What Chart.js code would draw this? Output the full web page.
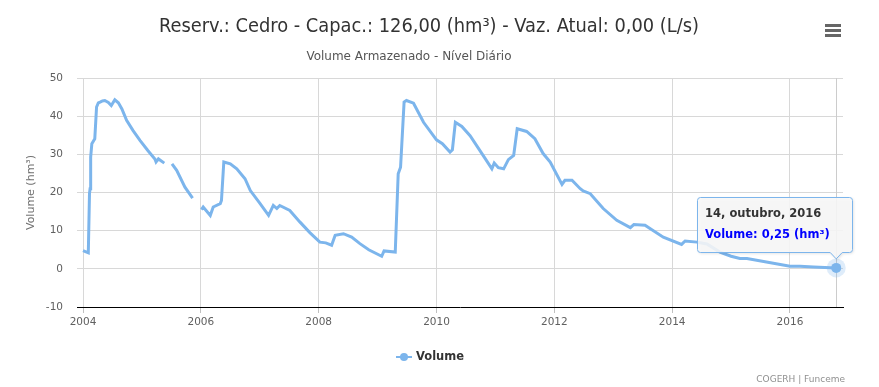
<!DOCTYPE html>
<html>
<head>
<meta charset="utf-8">
<script src="https://cdn.jsdelivr.net/npm/chart.js@4.4.1/dist/chart.umd.min.js"></script>
<style>
    body { margin: 0; background: #fff; }
    #wrap { width: 879px; height: 387px; position: relative; }
</style>
</head>
<body>
<div id="wrap"><canvas id="volumeChart"></canvas></div>
<script>
// datas em anos decimais, volume em hm³ (null = sem leitura)
const years = [
    2004.00, 2004.09, 2004.11, 2004.12, 2004.13, 2004.15, 2004.20, 2004.23, 2004.26, 2004.29,
    2004.33, 2004.37, 2004.43, 2004.48, 2004.54, 2004.60, 2004.66, 2004.74, 2004.85, 2004.97,
    2005.10, 2005.22, 2005.24, 2005.28, 2005.38, 2005.45, 2005.51, 2005.59, 2005.73, 2005.86,
    2005.94, 2006.01, 2006.04, 2006.16, 2006.21, 2006.33, 2006.35, 2006.39, 2006.50, 2006.61,
    2006.75, 2006.84, 2007.00, 2007.15, 2007.23, 2007.29, 2007.34, 2007.51, 2007.68, 2007.85,
    2008.02, 2008.12, 2008.22, 2008.28, 2008.42, 2008.56, 2008.70, 2008.85, 2009.07, 2009.11,
    2009.30, 2009.35, 2009.39, 2009.45, 2009.49, 2009.61, 2009.78, 2010.00, 2010.10, 2010.23,
    2010.27, 2010.32, 2010.43, 2010.57, 2010.83, 2010.94, 2010.98, 2011.05, 2011.14, 2011.22,
    2011.31, 2011.37, 2011.53, 2011.67, 2011.81, 2011.93, 2012.13, 2012.18, 2012.30, 2012.44,
    2012.49, 2012.61, 2012.83, 2013.06, 2013.29, 2013.35, 2013.54, 2013.63, 2013.85, 2014.16,
    2014.22, 2014.42, 2014.59, 2014.81, 2015.00, 2015.15, 2015.27, 2015.60, 2016.00, 2016.17,
    2016.40, 2016.785
];
const volumes = [
    4.8, 4.2, 19.7, 21.0, 29.3, 32.8, 34.1, 42.4, 43.5, 43.7,
    44.0, 44.1, 43.6, 42.8, 44.3, 43.5, 41.9, 38.9, 36.2, 33.6,
    31.0, 28.8, 28.0, 28.8, 27.7, null, 27.5, 25.8, 21.4, 18.5,
    null, 15.5, 16.2, 14.0, 16.2, 17.1, 17.9, 28.0, 27.5, 26.2,
    23.6, 20.5, 17.2, 14.0, 16.6, 15.8, 16.6, 15.3, 12.3, 9.5,
    7.0, 6.8, 6.2, 8.8, 9.2, 8.3, 6.6, 5.0, 3.3, 4.7,
    4.4, 24.9, 26.6, 43.7, 44.1, 43.4, 38.4, 33.8, 32.8, 30.6,
    31.2, 38.4, 37.3, 34.9, 28.8, 26.2, 27.7, 26.5, 26.2, 28.6,
    29.7, 36.7, 36.0, 34.1, 30.2, 28.0, 22.1, 23.2, 23.2, 21.0,
    20.4, 19.7, 15.8, 12.7, 10.8, 11.6, 11.4, 10.5, 8.3, 6.4,
    7.3, 7.0, 6.5, 4.4, 3.3, 2.7, 2.7, 1.8, 0.7, 0.7,
    0.5, 0.25
];
const xTickYears = [2004, 2006, 2008, 2010, 2012, 2014, 2016];
const yTickValues = [-10, 0, 10, 20, 30, 40, 50];

const chartTitle = 'Reserv.: Cedro - Capac.: 126,00 (hm³) - Vaz. Atual: 0,00 (L/s)';
const chartSubtitle = 'Volume Armazenado - Nível Diário';
const yAxisTitle = 'Volume (hm³)';
const seriesName = 'Volume';
const tooltipDate = '14, outubro, 2016';
const tooltipValue = 'Volume: 0,25 (hm³)';
const creditsText = 'COGERH | Funceme';

const lineColor = '#7cb5ec';
const baseFont = '"DejaVu Sans", Verdana, sans-serif';

// texto esticado/comprimido pra caber na largura medida
function fitText(ctx, text, cx, cy, width) {
    const w = ctx.measureText(text).width;
    ctx.save();
    ctx.translate(cx, cy);
    ctx.scale(width / w, 1);
    ctx.textAlign = 'center';
    ctx.textBaseline = 'middle';
    ctx.fillText(text, 0, 0);
    ctx.restore();
}

const decorPlugin = {
    id: 'decor',
    beforeDatasetsDraw(chart) {
        const ctx = chart.ctx;
        const area = chart.chartArea;
        const last = chart.getDatasetMeta(0).data[years.length - 1];
        // crosshair
        ctx.save();
        ctx.strokeStyle = '#cccccc';
        ctx.lineWidth = 1;
        ctx.beginPath();
        ctx.moveTo(Math.round(last.x) + 0.5, area.top);
        ctx.lineTo(Math.round(last.x) + 0.5, area.bottom);
        ctx.stroke();
        ctx.restore();
    },
    afterDatasetsDraw(chart) {
        const ctx = chart.ctx;
        const last = chart.getDatasetMeta(0).data[years.length - 1];
        ctx.save();
        ctx.fillStyle = 'rgba(124,181,236,0.25)';
        ctx.beginPath();
        ctx.arc(last.x, last.y, 9.5, 0, Math.PI * 2);
        ctx.fill();
        ctx.fillStyle = lineColor;
        ctx.beginPath();
        ctx.arc(last.x, last.y, 5, 0, Math.PI * 2);
        ctx.fill();
        ctx.restore();
    },
    afterDraw(chart) {
        const ctx = chart.ctx;
        const area = chart.chartArea;
        ctx.save();

        // titulo e subtitulo
        ctx.fillStyle = '#333333';
        ctx.font = '19px "Liberation Sans Narrow", "DejaVu Sans Condensed", "Liberation Sans", sans-serif';
        fitText(ctx, chartTitle, 429, 27, 540);
        ctx.fillStyle = '#555555';
        ctx.font = '12px "Liberation Sans Narrow", "DejaVu Sans Condensed", "Liberation Sans", sans-serif';
        fitText(ctx, chartSubtitle, 409, 57, 205);

        // botao de menu
        ctx.fillStyle = '#666666';
        [24, 29, 34].forEach(y => ctx.fillRect(825, y, 16, 3));

        // titulo do eixo y
        ctx.save();
        ctx.translate(31, (area.top + area.bottom) / 2);
        ctx.rotate(-Math.PI / 2);
        ctx.fillStyle = '#707070';
        ctx.font = '11px ' + baseFont;
        ctx.textAlign = 'center';
        ctx.textBaseline = 'middle';
        ctx.fillText(yAxisTitle, 0, 0);
        ctx.restore();

        // legenda
        ctx.strokeStyle = lineColor;
        ctx.lineWidth = 2;
        ctx.beginPath();
        ctx.moveTo(396, 357);
        ctx.lineTo(412, 357);
        ctx.stroke();
        ctx.fillStyle = lineColor;
        ctx.beginPath();
        ctx.arc(404, 357, 4, 0, Math.PI * 2);
        ctx.fill();
        ctx.fillStyle = '#333333';
        ctx.font = 'bold 11.5px ' + baseFont;
        ctx.textAlign = 'left';
        ctx.textBaseline = 'middle';
        ctx.fillText(seriesName, 416, 357);

        // creditos
        ctx.fillStyle = '#909090';
        ctx.font = '9px ' + baseFont;
        ctx.textAlign = 'right';
        ctx.fillText(creditsText, 845, 380);

        // tooltip
        const last = chart.getDatasetMeta(0).data[years.length - 1];
        const bx = 697.5, by = 197.5, bw = 155, bh = 55, r = 3;
        const tipX = last.x, tipY = last.y - 9;
        ctx.shadowColor = 'rgba(0,0,0,0.15)';
        ctx.shadowOffsetX = 1;
        ctx.shadowOffsetY = 1;
        ctx.shadowBlur = 3;
        ctx.beginPath();
        ctx.moveTo(bx + r, by);
        ctx.lineTo(bx + bw - r, by);
        ctx.arcTo(bx + bw, by, bx + bw, by + r, r);
        ctx.lineTo(bx + bw, by + bh - r);
        ctx.arcTo(bx + bw, by + bh, bx + bw - r, by + bh, r);
        ctx.lineTo(tipX + 6, by + bh);
        ctx.lineTo(tipX, tipY);
        ctx.lineTo(tipX - 6, by + bh);
        ctx.lineTo(bx + r, by + bh);
        ctx.arcTo(bx, by + bh, bx, by + bh - r, r);
        ctx.lineTo(bx, by + r);
        ctx.arcTo(bx, by, bx + r, by, r);
        ctx.closePath();
        ctx.fillStyle = 'rgba(249,249,249,0.88)';
        ctx.fill();
        ctx.shadowColor = 'transparent';
        ctx.strokeStyle = lineColor;
        ctx.lineWidth = 1;
        ctx.stroke();

        ctx.textAlign = 'left';
        ctx.textBaseline = 'middle';
        ctx.font = 'bold 11.5px ' + baseFont;
        ctx.fillStyle = '#333333';
        ctx.fillText(tooltipDate, 705, 214);
        ctx.fillStyle = '#0000ff';
        ctx.fillText(tooltipValue, 705, 235);

        ctx.restore();
    }
};

const ctx = document.getElementById('volumeChart').getContext('2d');
new Chart(ctx, {
    type: 'line',
    data: {
        datasets: [{
            label: seriesName,
            data: years.map((y, i) => ({ x: y, y: volumes[i] })),
            borderColor: lineColor,
            borderWidth: 3,
            pointRadius: 0,
            pointHoverRadius: 0,
            tension: 0,
            spanGaps: false,
            fill: false
        }]
    },
    options: {
        responsive: true,
        maintainAspectRatio: false,
        animation: false,
        events: [],
        layout: { padding: { top: 78, right: 36, left: 0, bottom: 0 } },
        plugins: {
            legend: { display: false },
            tooltip: { enabled: false },
            title: { display: false }
        },
        scales: {
            x: {
                type: 'linear',
                min: 2003.898,
                max: 2016.90,
                afterBuildTicks: scale => {
                    scale.ticks = xTickYears.map(v => ({ value: v }));
                },
                afterFit: scale => { scale.height = 80; },
                grid: { color: '#d8d8d8', tickLength: 6, tickColor: '#c0c0c0' },
                border: { display: true, color: '#000000', width: 1 },
                ticks: {
                    color: '#606060',
                    font: { family: baseFont, size: 10.5 },
                    padding: 3,
                    maxRotation: 0,
                    autoSkip: false,
                    callback: v => String(v)
                }
            },
            y: {
                min: -10,
                max: 50,
                afterBuildTicks: scale => {
                    scale.ticks = yTickValues.map(v => ({ value: v }));
                },
                afterFit: scale => { scale.width = 77; },
                grid: {
                    drawTicks: false,
                    color: c => (c.tick && c.tick.value === -10) ? 'rgba(0,0,0,0)' : '#d8d8d8'
                },
                border: { display: false },
                ticks: {
                    color: '#606060',
                    font: { family: baseFont, size: 10.5 },
                    padding: 14,
                    callback: v => String(v)
                }
            }
        }
    },
    plugins: [decorPlugin]
});
</script>
</body>
</html>
